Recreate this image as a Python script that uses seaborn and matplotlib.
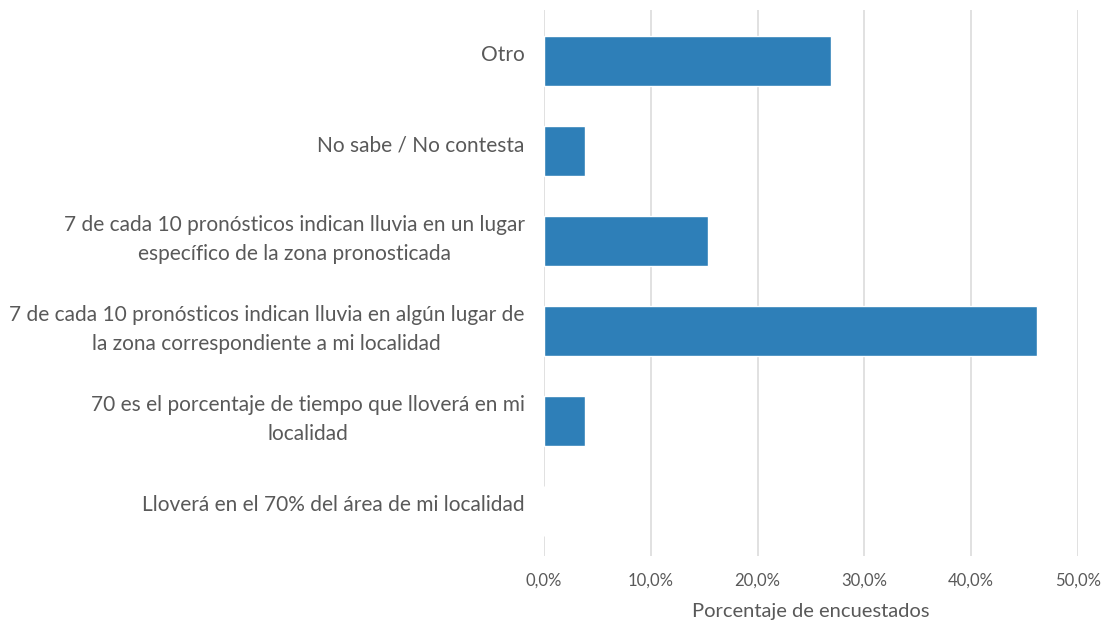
import matplotlib
matplotlib.use("Agg")
import matplotlib.pyplot as plt
from matplotlib.ticker import FuncFormatter, MultipleLocator
from matplotlib.transforms import ScaledTranslation
import seaborn as sns
import pandas as pd

categorias = [
    "Otro",
    "No sabe / No contesta",
    "7 de cada 10 pronósticos indican lluvia en un lugar\nespecífico de la zona pronosticada",
    "7 de cada 10 pronósticos indican lluvia en algún lugar de\nla zona correspondiente a mi localidad",
    "70 es el porcentaje de tiempo que lloverá en mi\nlocalidad",
    "Lloverá en el 70% del área de mi localidad",
]
porcentajes = [26.9, 3.8, 15.4, 46.2, 3.8, 0.0]

df = pd.DataFrame({"categoria": categorias, "porcentaje": porcentajes})

sns.set_theme(style="white")
plt.rcParams["font.family"] = ["Lato", "DejaVu Sans"]

texto = "#595959"
fig = plt.figure(figsize=(11.06, 6.25), dpi=100)
ax = fig.add_axes([544 / 1106, 1 - 556 / 625, (1078 - 544) / 1106, (556 - 10) / 625])

sns.barplot(data=df, x="porcentaje", y="categoria", orient="h",
            color="#2E7FB8", saturation=1, width=0.55, ax=ax)

ax.set_xlim(0, 50)
ax.set_ylim(5.5, -0.567)
ax.xaxis.set_major_locator(MultipleLocator(10))
ax.xaxis.set_major_formatter(FuncFormatter(lambda v, _: f"{v:.1f}%".replace(".", ",")))
ax.grid(axis="x", color="#D9D9D9", linewidth=1.1)
ax.set_axisbelow(True)
for s in ax.spines.values():
    s.set_visible(False)

ax.tick_params(axis="x", length=0, pad=12, labelsize=12, labelcolor=texto)
ax.tick_params(axis="y", length=0, pad=14, labelsize=15, labelcolor=texto)

# category labels: centred lines, slightly raised above the bar centre
shift = ScaledTranslation(0, 8 / 100, fig.dpi_scale_trans)
for lbl in ax.get_yticklabels():
    lbl.set_multialignment("center")
    lbl.set_linespacing(1.55)
    lbl.set_transform(lbl.get_transform() + shift)

ax.set_ylabel("")
ax.set_xlabel("Porcentaje de encuestados", fontsize=14.5, color=texto, labelpad=10)

fig.savefig("out.png", dpi=100)
